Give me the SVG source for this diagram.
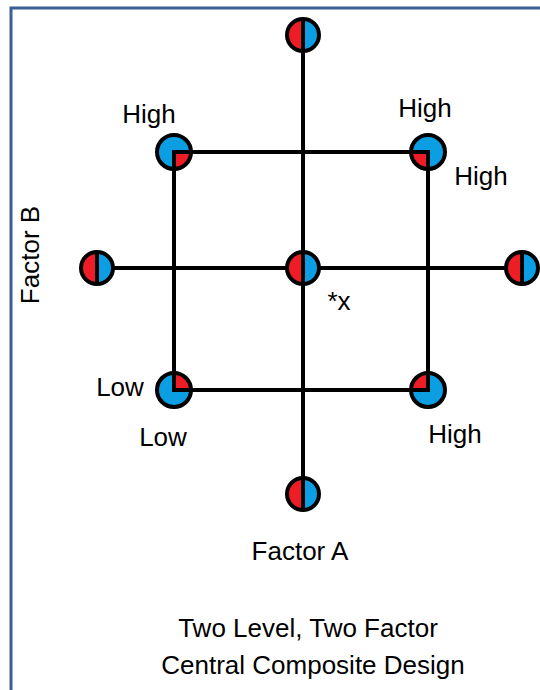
<svg xmlns="http://www.w3.org/2000/svg" width="540" height="690" viewBox="0 0 540 690">
<style>
.t{font-family:"Liberation Sans",Arial,sans-serif;font-size:26px;fill:#000;text-anchor:middle}
.ln{stroke:#000;stroke-width:4;fill:none}
.ring{fill:none;stroke:#000;stroke-width:4}
.b{fill:#0c9ee3}
.r{fill:#ee1c25}
</style>
<defs>
<g id="axial">
<circle r="16" class="b"/>
<path d="M0,-16 A16,16 0 0 0 0,16 Z" class="r"/>
<line x1="0" y1="-16" x2="0" y2="16" stroke="#000" stroke-width="4"/>
<circle r="16" class="ring"/>
</g>
<g id="corner">
<circle r="17" class="b"/>
<path d="M0,0 H17 A17,17 0 0 1 0,17 Z" class="r"/>
<path d="M0,22 V0 H22" class="ln"/>
<circle r="17" class="ring"/>
</g>
</defs>
<rect width="540" height="690" fill="#fff"/>
<path d="M11,690 V8 H540" fill="none" stroke="#3a5f95" stroke-width="3"/>
<g id="connectors">
<line x1="303" y1="35" x2="303" y2="494" class="ln"/>
<line x1="97" y1="268" x2="522" y2="268" class="ln"/>
<path d="M174,152 H428 V390 H174 Z" class="ln"/>
</g>
<g id="n-top"><use href="#axial" x="303" y="35"/></g>
<g id="n-left"><use href="#axial" x="97" y="268"/></g>
<g id="n-center"><use href="#axial" x="303" y="268"/></g>
<g id="n-right"><use href="#axial" x="522" y="268"/></g>
<g id="n-bottom"><use href="#axial" x="303" y="494"/></g>
<g id="n-tl"><use href="#corner" transform="translate(174,152)"/></g>
<g id="n-tr"><use href="#corner" transform="translate(428,152) scale(-1,1)"/></g>
<g id="n-bl"><use href="#corner" transform="translate(174,390) scale(1,-1)"/></g>
<g id="n-br"><use href="#corner" transform="translate(428,390) scale(-1,-1)"/></g>
<g id="labels">
<text class="t" x="149" y="123">High</text>
<text class="t" x="425" y="117">High</text>
<text class="t" x="481" y="185">High</text>
<text class="t" x="120" y="396">Low</text>
<text class="t" x="163" y="446">Low</text>
<text class="t" x="455" y="443">High</text>
<text class="t" x="339" y="310">*x</text>
<text class="t" x="300" y="560">Factor A</text>
<text class="t" transform="translate(39,255) rotate(-90)">Factor B</text>
<text class="t" x="308" y="637">Two Level, Two Factor</text>
<text class="t" x="313" y="674">Central Composite Design</text>
</g>
</svg>
